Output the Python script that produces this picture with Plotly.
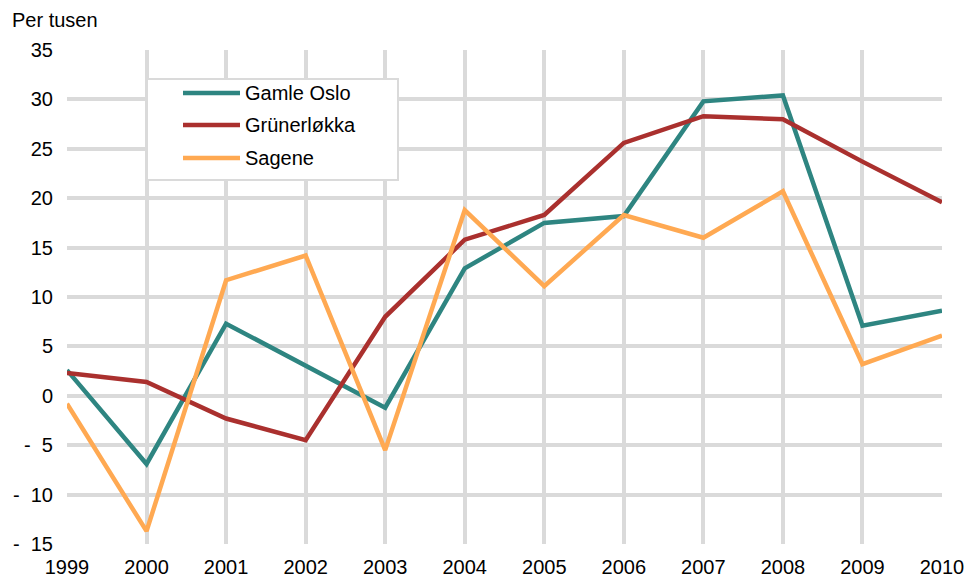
import plotly.graph_objects as go

years = list(range(1999, 2011))
gamle_oslo = [2.6, -6.9, 7.3, 3.1, -1.2, 12.9, 17.5, 18.2, 29.8, 30.4, 7.1, 8.6]
grunerlokka = [2.3, 1.4, -2.3, -4.5, 8.0, 15.8, 18.3, 25.6, 28.3, 28.0, 23.7, 19.6]
sagene = [-0.8, -13.7, 11.7, 14.2, -5.5, 18.8, 11.1, 18.3, 16.0, 20.7, 3.2, 6.1]

series_names = ["Gamle Oslo", "Grünerløkka", "Sagene"]
series_colors = ["#2E8581", "#AA302E", "#FFA952"]
y_tickvals = [35, 30, 25, 20, 15, 10, 5, 0, -5, -10, -15]
y_ticktext = ["35", "30", "25", "20", "15", "10", "5", "0",
              "-\u00a0\u00a05", "-\u00a0\u00a010", "-\u00a0\u00a015"]

W, H = 967, 578
L, R, T, B = 67, 25, 50, 34
PW, PH = W - L - R, H - T - B

def px_x(x):
    return (x - L) / PW

def px_y(y):
    return (H - B - y) / PH

font = "Liberation Sans, Arial, sans-serif"
FS = 20
GRID = "#DADADA"

fig = go.Figure()
for name, vals, col in zip(series_names, [gamle_oslo, grunerlokka, sagene], series_colors):
    fig.add_trace(go.Scatter(x=years, y=vals, name=name, mode="lines",
                             line=dict(color=col, width=4.5), showlegend=False,
                             hoverinfo="skip"))

fig.update_layout(
    width=W, height=H, autosize=False,
    margin=dict(l=L, r=R, t=T, b=B, autoexpand=False),
    paper_bgcolor="white", plot_bgcolor="white",
    font=dict(family=font, size=FS, color="#000000"),
    xaxis=dict(range=[1999, 2010], tickvals=years, ticktext=[str(y) for y in years],
               showgrid=True, gridcolor=GRID, gridwidth=4, zeroline=False,
               showline=False, ticks="", tickfont=dict(size=FS), ticklabelstandoff=9,
               automargin=False, fixedrange=True),
    yaxis=dict(range=[-15, 35], tickvals=y_tickvals, ticktext=y_ticktext,
               showgrid=True, gridcolor=GRID, gridwidth=4, zeroline=False,
               showline=False, ticks="", tickfont=dict(size=FS), ticklabelstandoff=13,
               automargin=False, fixedrange=True),
    showlegend=False,
)

# custom legend box
fig.add_shape(type="rect", xref="paper", yref="paper",
              x0=px_x(147), x1=px_x(398), y0=px_y(180), y1=px_y(79),
              fillcolor="white", line=dict(color=GRID, width=2), layer="above")
row_y = [93, 125, 158]
for name, col, ry in zip(series_names, series_colors, row_y):
    fig.add_shape(type="line", xref="paper", yref="paper",
                  x0=px_x(183), x1=px_x(240), y0=px_y(ry), y1=px_y(ry),
                  line=dict(color=col, width=4.5), layer="above")
    fig.add_annotation(text=name, xref="paper", yref="paper", x=px_x(243), y=px_y(ry),
                       xanchor="left", yanchor="middle", showarrow=False,
                       font=dict(size=FS))

fig.add_annotation(text="Per tusen", xref="paper", yref="paper", x=px_x(10), y=px_y(20),
                   xanchor="left", yanchor="middle", showarrow=False,
                   font=dict(size=FS))

fig.write_html("out.html", config={"displayModeBar": False},
               post_script="document.body.style.margin='0';document.body.style.overflow='hidden';")
